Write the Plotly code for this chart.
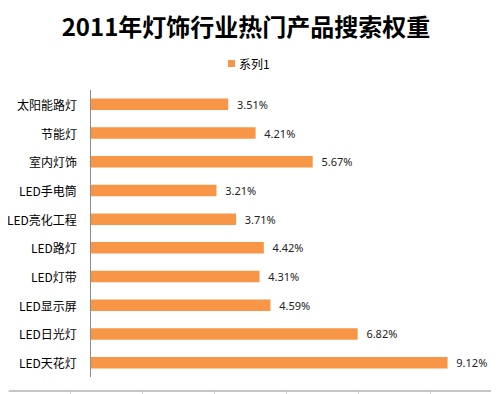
import plotly.graph_objects as go

categories = ["太阳能路灯", "节能灯", "室内灯饰", "LED手电筒", "LED亮化工程",
              "LED路灯", "LED灯带", "LED显示屏", "LED日光灯", "LED天花灯"]
values = [3.51, 4.21, 5.67, 3.21, 3.71, 4.42, 4.31, 4.59, 6.82, 9.12]
series_name = "系列1"
title_text = "2011年灯饰行业热门产品搜索权重"

# page body has an 8px margin; work in screen pixels and subtract it
OFF = 8
W, H = 499 - OFF, 394 - OFF
L, R, T, B = 91 - OFF, 17, 90 - OFF, 17
pw, ph = W - L - R, H - T - B

def px_x(x):
    return (x - OFF - L) / pw

def px_y(y):
    return (H - B - (y - OFF)) / ph

fig = go.Figure()
fig.add_trace(go.Bar(
    x=values, y=categories, orientation="h", name=series_name,
    marker=dict(color="#F79646", line=dict(width=0)),
    width=0.4,
    text=[f"  {v:.2f}%" for v in values],
    textposition="outside", cliponaxis=False, constraintext="none",
    textfont=dict(family="Noto Sans, DejaVu Sans", size=11, color="#222222"),
    showlegend=False,
))

shapes = [
    dict(type="rect", xref="paper", yref="paper",
         x0=px_x(8.5), x1=px_x(497), y0=px_y(391), y1=px_y(8.5),
         line=dict(color="#8c8c8c", width=1), layer="below"),
    dict(type="line", xref="paper", yref="paper",
         x0=px_x(8), x1=px_x(497), y0=px_y(8.5), y1=px_y(8.5),
         line=dict(color="#ffffff", width=1)),
    dict(type="line", xref="paper", yref="paper",
         x0=px_x(8.5), x1=px_x(8.5), y0=px_y(391), y1=px_y(8),
         line=dict(color="#ffffff", width=1)),
    # legend swatch
    dict(type="rect", xref="paper", yref="paper",
         x0=px_x(228), x1=px_x(235), y0=px_y(67), y1=px_y(60),
         fillcolor="#F79646", line=dict(width=0)),
]
for gx in [70.5, 142.5, 214.5, 286.5, 358.5, 430.5]:
    shapes.append(dict(type="line", xref="paper", yref="paper",
                       x0=px_x(gx), x1=px_x(gx), y0=px_y(391), y1=px_y(394),
                       line=dict(color="#d0d0d0", width=1)))

annotations = [
    dict(text=series_name, xref="paper", yref="paper", x=px_x(237), y=px_y(63),
         xanchor="left", yanchor="middle", showarrow=False,
         font=dict(family="Noto Sans CJK SC", size=12, color="#000000")),
]
# category labels, right-aligned a little left of the axis line
for cat in categories:
    annotations.append(dict(text=cat, xref="paper", yref="y", x=px_x(79), y=cat,
                            xanchor="right", yanchor="middle", showarrow=False,
                            xshift=0,
                            font=dict(family="Noto Sans CJK SC", size=12, color="#000000")))

fig.update_layout(
    width=W, height=H,
    margin=dict(l=L, r=R, t=T, b=B),
    paper_bgcolor="white", plot_bgcolor="white",
    title=dict(text=f"<b>{title_text}</b>", x=(246 - OFF) / W, xref="container",
               xanchor="center", y=1 - (28 - OFF) / H, yref="container", yanchor="middle",
               font=dict(family="Noto Sans CJK SC", size=24, color="#000000")),
    showlegend=False,
    xaxis=dict(range=[0, 10], showgrid=False, zeroline=False, showticklabels=False,
               showline=False, ticks="", automargin=False),
    yaxis=dict(autorange="reversed", showgrid=False, zeroline=False,
               showline=True, linecolor="#8c8c8c", linewidth=1,
               ticks="", showticklabels=False, automargin=False),
    shapes=shapes,
    annotations=annotations,
)

fig.write_html("out.html")
